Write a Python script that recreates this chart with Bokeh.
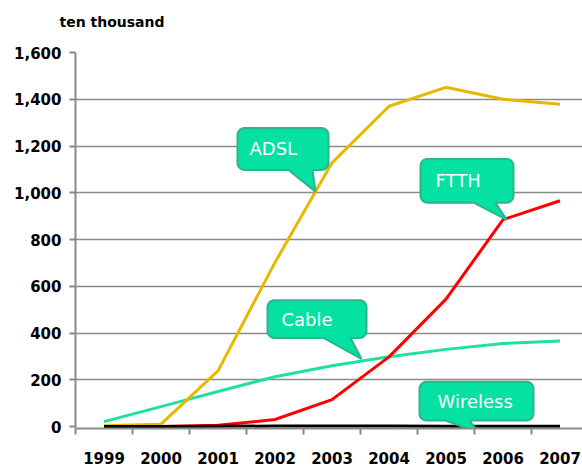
import numpy as np
from bokeh.plotting import figure
from bokeh.models import Range1d, FixedTicker, Label, NumeralTickFormatter, Title
from bokeh.embed import file_html
from bokeh.resources import INLINE

# ---- data ----
years = [1999, 2000, 2001, 2002, 2003, 2004, 2005, 2006, 2007]
year_labels = [str(y) for y in years]
adsl = [3, 10, 238, 702, 1128, 1370, 1451, 1400, 1379]
ftth = [0, 0, 5, 30, 115, 298, 545, 885, 966]
cable = [21, 85, 150, 213, 260, 298, 330, 355, 366]
wireless = [0, 0, 1, 2, 2, 2, 1, 1, 1]
y_ticks = [0, 200, 400, 600, 800, 1000, 1200, 1400, 1600]
unit_label = "ten thousand"

# ---- layout constants ----
PX_X = 57.0      # pixels per year
PX_Y = 0.235     # pixels per unit
X0, X1 = 1998.5, 1998.5 + 507 / PX_X
Y0, Y1 = -8.5, 1600
LEFT, TOP = 75, 52

p = figure(width=582, height=466, output_backend="svg", toolbar_location=None,
           x_range=Range1d(X0, X1), y_range=Range1d(Y0, Y1),
           min_border_left=LEFT, min_border_right=0, min_border_top=TOP,
           min_border_bottom=36, title=unit_label)
p.outline_line_color = None
p.background_fill_color = "white"
p.border_fill_color = "white"

p.title.align = "left"
p.title.offset = -16
p.title.standoff = 0
p.title.text_font = "DejaVu Sans"
p.title.text_font_style = "bold"
p.title.text_font_size = "14px"
p.title.text_color = "black"
# thin spacer between the unit label and the plot frame
p.add_layout(Title(text=" ", text_font_size="1px", standoff=20), "above")

GRAY = "#8a8a8a"
# y axis
p.yaxis.ticker = FixedTicker(ticks=y_ticks)
p.yaxis.formatter = NumeralTickFormatter(format="0,0")
p.yaxis.axis_line_color = GRAY
p.yaxis.axis_line_width = 2
p.yaxis.major_tick_in = 0
p.yaxis.major_tick_out = 6
p.yaxis.major_tick_line_color = GRAY
p.yaxis.major_tick_line_width = 2
p.yaxis.minor_tick_line_color = None
p.yaxis.major_label_text_font = "DejaVu Sans"
p.yaxis.major_label_text_font_style = "bold"
p.yaxis.major_label_text_font_size = "15px"
p.yaxis.major_label_text_color = "black"
p.yaxis.major_label_standoff = 8

p.ygrid.ticker = FixedTicker(ticks=y_ticks[1:])
p.ygrid.grid_line_color = GRAY
p.ygrid.grid_line_width = 1.6
p.xgrid.grid_line_color = None

# x axis
p.xaxis.ticker = FixedTicker(ticks=years, minor_ticks=[y - 0.5 for y in years])
p.xaxis.major_label_overrides = {y: l for y, l in zip(years, year_labels)}
p.xaxis.axis_line_color = GRAY
p.xaxis.axis_line_width = 2
p.xaxis.major_tick_in = 0
p.xaxis.major_tick_out = 0
p.xaxis.minor_tick_in = 0
p.xaxis.minor_tick_out = 6
p.xaxis.minor_tick_line_color = GRAY
p.xaxis.minor_tick_line_width = 2
p.xaxis.major_label_text_font = "DejaVu Sans"
p.xaxis.major_label_text_font_style = "bold"
p.xaxis.major_label_text_font_size = "15px"
p.xaxis.major_label_text_color = "black"
p.xaxis.major_label_standoff = 17

# ---- series ----
p.line(years, cable, line_color="#1fe0a2", line_width=3, line_join="round")
p.line(years, adsl, line_color="#e6b800", line_width=3, line_join="round")
p.line(years, ftth, line_color="#ff0000", line_width=3, line_join="round")
p.line(years, wireless, line_color="black", line_width=3, line_join="round")


# ---- callouts (pixel offsets relative to the tip point) ----
def callout(tip_x, tip_y, left, right, top, bottom, base_l, base_r, text, tx):
    """offsets in px relative to the tip (screen y positive downwards)."""
    r = 7
    pts = []

    def arc(cx, cy, a0, a1):
        for a in np.linspace(a0, a1, 8):
            pts.append((cx + r * np.cos(a), cy + r * np.sin(a)))

    arc(left + r, top + r, np.pi, 1.5 * np.pi)          # top-left
    arc(right - r, top + r, 1.5 * np.pi, 2 * np.pi)     # top-right
    arc(right - r, bottom - r, 0, 0.5 * np.pi)          # bottom-right
    pts.append((base_r, bottom))
    pts.append((0, 0))
    pts.append((base_l, bottom))
    arc(left + r, bottom - r, 0.5 * np.pi, np.pi)       # bottom-left
    xs = [tip_x + px / PX_X for px, py in pts]
    ys = [tip_y - py / PX_Y for px, py in pts]
    p.patch(xs, ys, fill_color="#05e0a3", line_color="#2bb58a", line_width=2)
    p.add_layout(Label(x=tip_x + tx / PX_X, y=tip_y - ((top + bottom) / 2) / PX_Y,
                       text=text, text_font="DejaVu Sans", text_font_size="18px",
                       text_color="white", text_baseline="middle", text_align="left"))


def to_data(X, Y):
    return X0 + (X - LEFT) / PX_X, (428 - Y) / PX_Y


tx_, ty_ = to_data(315, 192)
callout(tx_, ty_, 237 - 315, 328 - 315, 128 - 192, 170 - 192, 288 - 315, 312 - 315, "ADSL", 249 - 315)
tx_, ty_ = to_data(506, 220)
callout(tx_, ty_, 420 - 506, 513 - 506, 159 - 220, 203 - 220, 473 - 506, 495 - 506, "FTTH", 435 - 506)
tx_, ty_ = to_data(361, 360)
callout(tx_, ty_, 267 - 361, 366 - 361, 301 - 360, 339 - 360, 323 - 361, 350 - 361, "Cable", 281 - 361)
tx_, ty_ = to_data(478, 434)
callout(tx_, ty_, 419 - 478, 533 - 478, 383 - 434, 422 - 434, 445 - 478, 469 - 478, "Wireless", 437 - 478)

open("out.html", "w").write(file_html(p, INLINE))
